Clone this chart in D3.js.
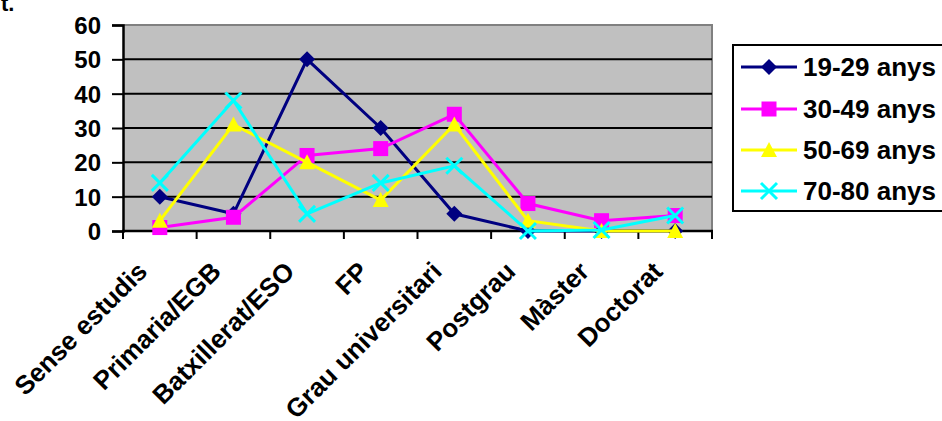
<!DOCTYPE html>
<html>
<head>
<meta charset="utf-8">
<script src="https://cdn.jsdelivr.net/npm/d3@7/dist/d3.min.js"></script>
<style>
  html, body { margin: 0; padding: 0; background: #fff; }
  svg { display: block; font-family: Arial, "Liberation Sans", sans-serif; font-weight: bold; }
</style>
</head>
<body>
<svg id="chart" width="942" height="421"></svg>
<script>
// Nivell d'estudis per franja d'edat (%)
const categories = ["Sense estudis", "Primaria/EGB", "Batxillerat/ESO", "FP",
                    "Grau universitari", "Postgrau", "Màster", "Doctorat"];
const seriesNames = ["19-29 anys", "30-49 anys", "50-69 anys", "70-80 anys"];
const edat19_29 = [10, 5, 50, 30, 5, 0, 0, 0];
const edat30_49 = [1, 4, 22, 24, 34, 8, 3, 4.5];
const edat50_69 = [3, 31, 20, 9, 31, 3, 0, 0];
const edat70_80 = [14, 38, 5, 14, 19, 0, 0.3, 4.5];
const yTicks = [0, 10, 20, 30, 40, 50, 60];

const seriesValues = [edat19_29, edat30_49, edat50_69, edat70_80];
const colors = ["#000080", "#FF00FF", "#FFFF00", "#00FFFF"];
const markers = ["diamond", "square", "triangle", "cross"];

const svg = d3.select("#chart");
const plot = { left: 123, right: 712, top: 25, bottom: 231 };

const x = d3.scaleBand().domain(categories).range([plot.left, plot.right]).paddingInner(0).paddingOuter(0);
const y = d3.scaleLinear().domain([0, 60]).range([plot.bottom, plot.top]);

// tail of the caption above the chart
svg.append("text").attr("x", 1).attr("y", 11).attr("font-size", 22).text("t.");

// plot area background
svg.append("rect")
  .attr("x", plot.left).attr("y", plot.top)
  .attr("width", plot.right - plot.left).attr("height", plot.bottom - plot.top)
  .attr("fill", "#C0C0C0");

// top and right edges of the plot frame
svg.append("path")
  .attr("d", `M${plot.left},${plot.top}H${plot.right}V${plot.bottom}`)
  .attr("fill", "none").attr("stroke", "#808080").attr("stroke-width", 2);

// horizontal gridlines
svg.append("g").selectAll("line")
  .data(yTicks.filter(t => t > 0 && t < 60))
  .join("line")
  .attr("x1", plot.left).attr("x2", plot.right)
  .attr("y1", d => y(d)).attr("y2", d => y(d))
  .attr("stroke", "#000").attr("stroke-width", 2);

// y axis
const yAxis = d3.axisLeft(y).tickValues(yTicks).tickSize(11).tickPadding(11).tickFormat(d3.format("d"));
const gy = svg.append("g").attr("transform", `translate(${plot.left},0)`).call(yAxis);
gy.select(".domain").attr("stroke", "#000").attr("stroke-width", 2.5);
gy.selectAll(".tick line").attr("stroke", "#000").attr("stroke-width", 2);
gy.selectAll(".tick text").attr("font-size", 24).attr("font-weight", "bold")
  .attr("font-family", "Arial, 'Liberation Sans', sans-serif").attr("fill", "#000").attr("dy", "0.36em");

// x axis line and boundary ticks
const xg = svg.append("g");
xg.append("line")
  .attr("x1", plot.left - 1).attr("x2", plot.right + 1)
  .attr("y1", plot.bottom).attr("y2", plot.bottom)
  .attr("stroke", "#000").attr("stroke-width", 2.5);
const boundaries = categories.map(c => x(c)).concat([x.range()[1]]);
xg.selectAll("line.tk").data(boundaries).join("line").attr("class", "tk")
  .attr("x1", d => d).attr("x2", d => d)
  .attr("y1", plot.bottom).attr("y2", plot.bottom + 8)
  .attr("stroke", "#000").attr("stroke-width", 2);

// rotated category labels
xg.selectAll("text").data(categories).join("text")
  .attr("text-anchor", "end")
  .attr("font-size", 26)
  .attr("transform", d => `translate(${x(d) + x.bandwidth() / 2 - 11},273) rotate(-45)`)
  .text(d => d);

// marker shapes
function drawMarker(g, type, color) {
  if (type === "diamond") {
    g.append("path").attr("d", "M0,-8L8,0L0,8L-8,0Z").attr("fill", color);
  } else if (type === "square") {
    g.append("rect").attr("x", -7.5).attr("y", -7.5).attr("width", 15).attr("height", 15).attr("fill", color);
  } else if (type === "triangle") {
    g.append("path").attr("d", "M0,-8L8,7L-8,7Z").attr("fill", color);
  } else {
    g.append("path").attr("d", "M-8,-8L8,8M8,-8L-8,8")
      .attr("stroke", color).attr("stroke-width", 3).attr("fill", "none");
  }
}

const cx = c => x(c) + x.bandwidth() / 2;
const line = d3.line().x((d, i) => cx(categories[i])).y(d => y(d));

seriesValues.forEach((vals, k) => {
  const g = svg.append("g");
  g.append("path").datum(vals).attr("d", line)
    .attr("fill", "none").attr("stroke", colors[k]).attr("stroke-width", 3);
  vals.forEach((v, i) => {
    const m = g.append("g").attr("transform", `translate(${cx(categories[i])},${y(v)})`);
    drawMarker(m, markers[k], colors[k]);
  });
});

// legend
const lg = svg.append("g");
lg.append("rect").attr("x", 733).attr("y", 45).attr("width", 220).attr("height", 166)
  .attr("fill", "#fff").attr("stroke", "#000").attr("stroke-width", 2);
const rowY = [67, 109, 150, 191];
seriesNames.forEach((name, k) => {
  const r = lg.append("g").attr("transform", `translate(0,${rowY[k]})`);
  r.append("line").attr("x1", 741).attr("x2", 797).attr("y1", 0).attr("y2", 0)
    .attr("stroke", colors[k]).attr("stroke-width", 3);
  const m = r.append("g").attr("transform", "translate(769,0)");
  drawMarker(m, markers[k], colors[k]);
  r.append("text").attr("x", 803).attr("y", 9).attr("font-size", 26).text(name);
});
</script>
</body>
</html>
